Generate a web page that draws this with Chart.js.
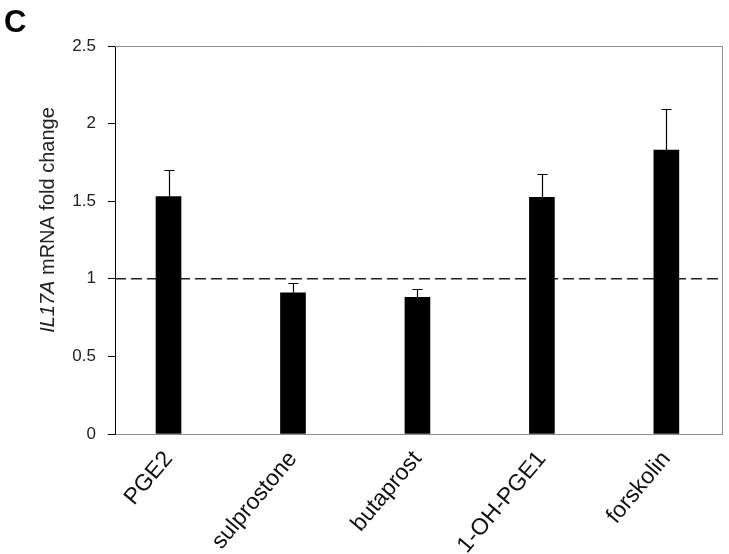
<!DOCTYPE html>
<html>
<head>
<meta charset="utf-8">
<script src="https://cdn.jsdelivr.net/npm/chart.js@4.4.1/dist/chart.umd.min.js"></script>
<style>
  html, body { margin: 0; padding: 0; background: #fff; overflow: hidden; }
  canvas { display: block; }
</style>
</head>
<body>
<canvas id="chart" width="729" height="554"></canvas>
<script>
// Данные графика
const categories = ['PGE2', 'sulprostone', 'butaprost', '1-OH-PGE1', 'forskolin'];
const foldChange = [1.53, 0.91, 0.88, 1.525, 1.83];
const errorUp = [0.17, 0.06, 0.055, 0.15, 0.265];
const yTicks = [0, 0.5, 1, 1.5, 2, 2.5];
const baseline = 1;

const FONT = '"Liberation Sans", Arial, sans-serif';

// Пунктирная линия на уровне 1 и рамка области графика
const framePlugin = {
    id: 'frame',
    beforeDatasetsDraw(chart) {
        const { ctx, chartArea, scales } = chart;
        const y = scales.y.getPixelForValue(baseline);
        ctx.save();
        ctx.strokeStyle = '#222';
        ctx.lineWidth = 1.5;
        ctx.setLineDash([11, 5]);
        ctx.beginPath();
        ctx.moveTo(chartArea.left, y);
        ctx.lineTo(chartArea.right, y);
        ctx.stroke();
        ctx.restore();
    },
    afterDraw(chart) {
        const { ctx, chartArea } = chart;
        ctx.save();
        ctx.strokeStyle = '#8c8c8c';
        ctx.lineWidth = 1;
        ctx.beginPath();
        ctx.moveTo(chartArea.left, chartArea.top + 0.5);
        ctx.lineTo(chartArea.right + 0.5, chartArea.top + 0.5);
        ctx.lineTo(chartArea.right + 0.5, chartArea.bottom);
        ctx.stroke();

        // Буква панели
        ctx.fillStyle = '#000';
        ctx.font = 'bold 31px ' + FONT;
        ctx.textAlign = 'left';
        ctx.textBaseline = 'alphabetic';
        ctx.fillText('C', 4, 32);

        // Подпись оси Y (IL17A курсивом)
        ctx.translate(48, 220);
        ctx.rotate(-Math.PI / 2);
        ctx.fillStyle = '#222';
        ctx.textBaseline = 'middle';
        const italicPart = 'IL17A';
        const plainPart = ' mRNA fold change';
        ctx.font = 'italic 20px ' + FONT;
        const w1 = ctx.measureText(italicPart).width;
        ctx.font = '20px ' + FONT;
        const w2 = ctx.measureText(plainPart).width;
        const start = -(w1 + w2) / 2;
        ctx.font = 'italic 20px ' + FONT;
        ctx.fillText(italicPart, start, 0);
        ctx.font = '20px ' + FONT;
        ctx.fillText(plainPart, start + w1, 0);
        ctx.restore();
    }
};

// Планки погрешностей (только вверх)
const errorBarPlugin = {
    id: 'errorBars',
    afterDatasetsDraw(chart) {
        const { ctx, scales } = chart;
        ctx.save();
        ctx.strokeStyle = '#000';
        ctx.lineWidth = 1.2;
        foldChange.forEach((v, i) => {
            const x = Math.round(scales.x.getPixelForValue(i)) + 0.5;
            const yBar = scales.y.getPixelForValue(v);
            const yTop = Math.round(scales.y.getPixelForValue(v + errorUp[i])) + 0.5;
            ctx.beginPath();
            ctx.moveTo(x, yBar);
            ctx.lineTo(x, yTop);
            ctx.moveTo(x - 5, yTop);
            ctx.lineTo(x + 5, yTop);
            ctx.stroke();
        });
        ctx.restore();
    }
};

const ctx = document.getElementById('chart').getContext('2d');

const chart = new Chart(ctx, {
    type: 'bar',
    data: {
        datasets: [{
            label: 'IL17A mRNA fold change',
            data: foldChange.map((v, i) => ({ x: i, y: v })),
            backgroundColor: '#000',
            borderWidth: 0,
            barThickness: 25
        }]
    },
    options: {
        responsive: false,
        animation: false,
        layout: {
            padding: { top: 46, right: 7, left: 0, bottom: 0 }
        },
        scales: {
            x: {
                type: 'linear',
                offset: false,
                min: -0.43,
                max: 4.447,
                afterBuildTicks: function(scale) {
                    scale.ticks = categories.map((c, i) => ({ value: i }));
                },
                afterFit: function(scale) {
                    scale.height = 120;
                },
                grid: {
                    display: false
                },
                border: {
                    display: true,
                    color: '#8c8c8c',
                    width: 1
                },
                ticks: {
                    autoSkip: false,
                    minRotation: 50,
                    maxRotation: 50,
                    padding: 4,
                    color: '#111',
                    font: {
                        family: FONT,
                        size: 23
                    },
                    callback: function(value) {
                        return categories[value] !== undefined ? categories[value] : '';
                    }
                }
            },
            y: {
                min: 0,
                max: 2.5,
                afterBuildTicks: function(scale) {
                    scale.ticks = yTicks.map(v => ({ value: v }));
                },
                afterFit: function(scale) {
                    scale.width = 115;
                },
                grid: {
                    display: true,
                    drawOnChartArea: false,
                    drawTicks: true,
                    tickLength: 7,
                    color: '#000'
                },
                border: {
                    display: true,
                    color: '#000',
                    width: 1
                },
                ticks: {
                    padding: 12,
                    color: '#222',
                    font: {
                        family: FONT,
                        size: 17
                    },
                    callback: function(value) {
                        return String(value);
                    }
                }
            }
        },
        plugins: {
            legend: {
                display: false
            },
            tooltip: {
                enabled: false
            }
        }
    },
    plugins: [framePlugin, errorBarPlugin]
});
</script>
</body>
</html>
